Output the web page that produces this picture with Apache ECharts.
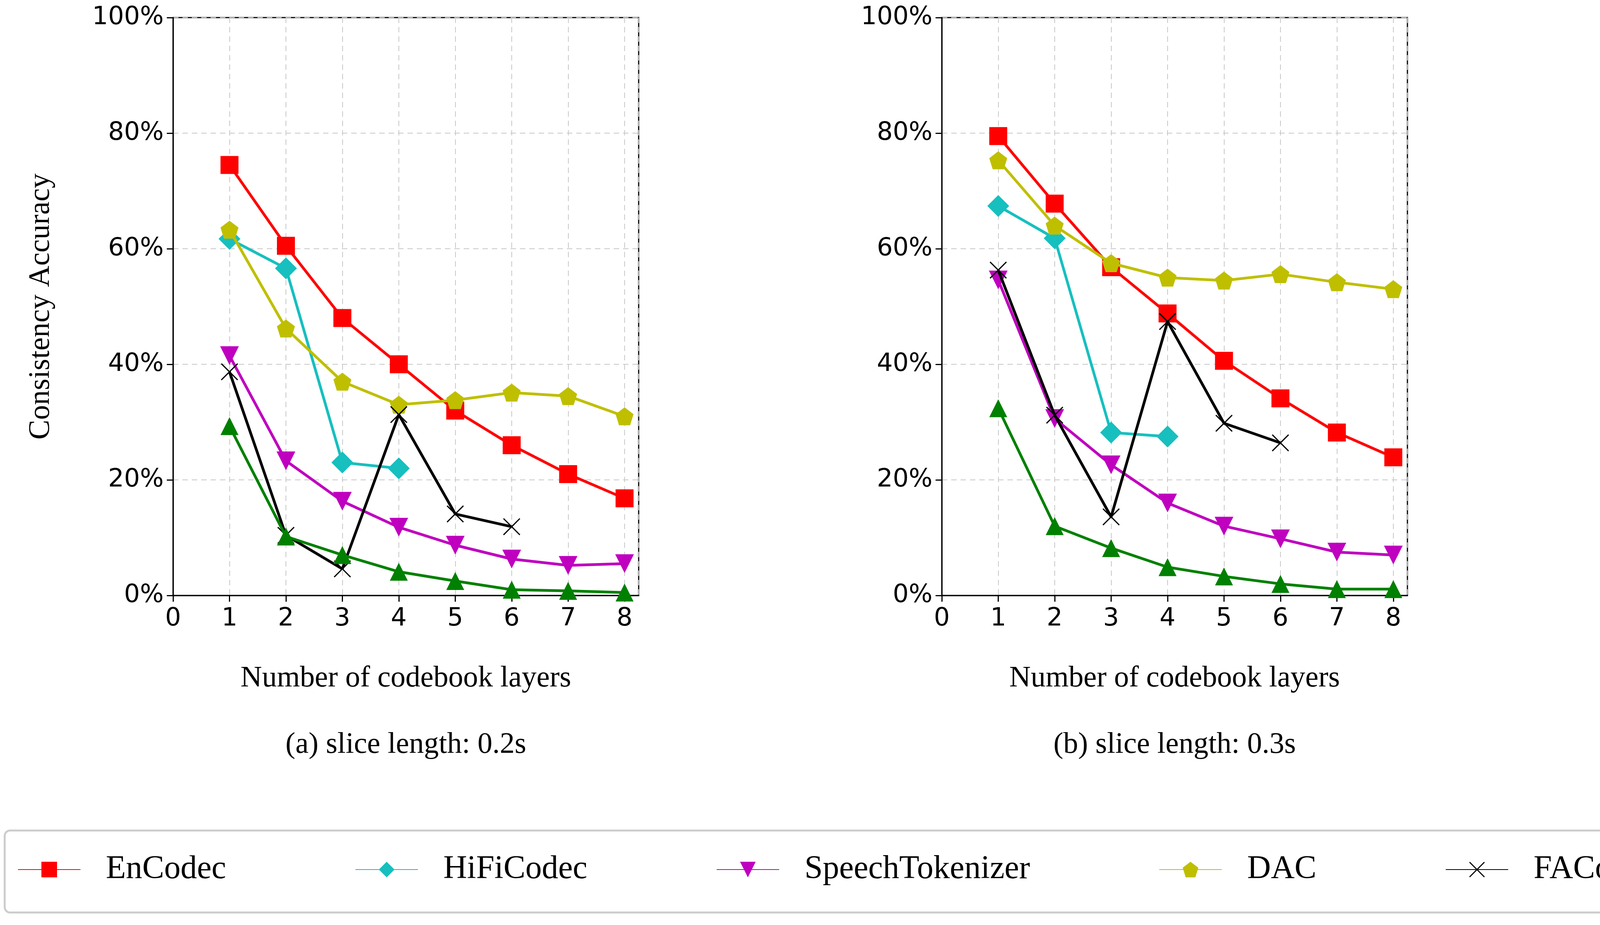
<!DOCTYPE html>
<html><head><meta charset="utf-8">
<script src="https://cdn.jsdelivr.net/npm/echarts@6/dist/echarts.min.js"></script>
<style>html,body{margin:0;padding:0;background:#fff}#c{width:5935px;height:2369px}</style>
</head><body><div id="c"></div>
<script>
const layers = [1,2,3,4,5,6,7,8];
const seriesNames = ['EnCodec','HiFiCodec','SpeechTokenizer','DAC','FACodec','FunCodec'];
const yTicks = [0,20,40,60,80,100];
const captions = ['(a) slice length: 0.2s','(b) slice length: 0.3s','(c) slice length: 0.4s'];
// panel a
const encA = [74.5,60.5,48,40,32,26,21,16.8];
const hifiA = [61.7,56.6,23,22];
const stA = [41.5,23.3,16.3,11.8,8.7,6.3,5.2,5.5];
const dacA = [63.3,46.2,37,33,33.8,35.1,34.5,31];
const faA = [38.7,10.4,4.6,31.3,14.1,11.9];
const funA = [29.3,10.2,7,4.1,2.5,1,0.8,0.5];
// panel b
const encB = [79.5,67.8,56.8,48.8,40.6,34.1,28.2,23.9];
const hifiB = [67.4,61.8,28.2,27.5];
const stB = [54.6,30.6,22.6,16,12,9.8,7.5,7];
const dacB = [75.3,64,57.5,55,54.5,55.6,54.2,53];
const faB = [56.3,31.2,13.6,47.4,29.8,26.4];
const funB = [32.4,12,8.2,4.9,3.3,2,1.1,1.1];
// panel c
const encC = [82.7,71.8,61.8,54.1,47.1,40,34.4,28.8];
const hifiC = [71.5,65.7,31.9,30.1];
const stC = [59.6,36,28.6,19,15,11.5,9.1,7.9];
const dacC = [82.2,73,68.3,66.7,67,66.6,66.3,64.9];
const faC = [67.3,48.5,34.6,60.8,47,44.5];
const funC = [33.7,13.7,9,6,4.3,2.4,1.5,1.5];

const panels = [[encA,hifiA,stA,dacA,faA,funA],[encB,hifiB,stB,dacB,faB,funB],[encC,hifiC,stC,dacC,faC,funC]];
const colors = ['#ff0000','#17bfbf','#bf00bf','#bfbf00','#000000','#008000'];
const pent = 'path://M0,-10 L9.51,-3.09 L5.88,8.09 L-5.88,8.09 L-9.51,-3.09 Z';
const xsym = 'path://M-10,-9 L-9,-10 L0,-1 L9,-10 L10,-9 L1,0 L10,9 L9,10 L0,1 L-9,10 L-10,9 L-1,0 Z';
const tri = 'path://M0,-10 L10,8 L-10,8 Z';
const trid = 'path://M0,10 L10,-8 L-10,-8 Z';
const symbols = ['rect','diamond',trid,pent,xsym,tri];
const symSizes = [46,56,48,46,44,46];

const lefts = [443,2411,4391], PW = 1192, PT = 45, PH = 1480;
const grid = [], xAxis = [], yAxis = [], series = [], graphic = [];
panels.forEach((p,i)=>{
  grid.push({left:lefts[i],top:PT,width:PW,height:PH,show:true,borderColor:'#000',borderWidth:3,containLabel:false});
  xAxis.push({gridIndex:i,type:'value',min:0,max:8.25,interval:1,
    name:'Number of codebook layers',nameLocation:'middle',nameGap:175,
    nameTextStyle:{fontFamily:'Liberation Serif',fontSize:76,color:'#000'},
    axisLine:{lineStyle:{color:'#000',width:3}},axisTick:{length:16,lineStyle:{color:'#000',width:3}},
    axisLabel:{fontFamily:'DejaVu Sans',fontSize:64,color:'#000',margin:28,showMaxLabel:false,formatter:v=>Number.isInteger(v)?String(v):''},
    splitLine:{show:true,lineStyle:{color:'#c8c8c8',type:[14,10],width:2}}});
  yAxis.push({gridIndex:i,type:'value',min:yTicks[0],max:yTicks[yTicks.length-1],interval:20,
    name:i===0?'Consistency Accuracy':'',nameLocation:'middle',nameGap:300,nameRotate:90,
    nameTextStyle:{fontFamily:'Liberation Serif',fontSize:76,color:'#000'},
    axisLine:{lineStyle:{color:'#000',width:3}},axisTick:{show:true,length:16,lineStyle:{color:'#000',width:3}},
    axisLabel:{fontFamily:'DejaVu Sans',fontSize:64,color:'#000',margin:24,formatter:v=>v+'%'},
    splitLine:{show:true,lineStyle:{color:'#c8c8c8',type:[14,10],width:2}}});
  p.forEach((arr,k)=>{
    series.push({name:seriesNames[k],type:'line',xAxisIndex:i,yAxisIndex:i,
      data:arr.map((v,j)=>[layers[j],v]),symbol:symbols[k],symbolSize:symSizes[k],
      lineStyle:{color:colors[k],width:7},itemStyle:{color:colors[k]},
      z:10+k,animation:false});
  });
  graphic.push({type:'text',x:lefts[i]+PW/2,y:1870,style:{text:captions[i],font:'76px "Liberation Serif"',fill:'#000',textAlign:'center'}});
});
graphic.push({type:'rect',shape:{x:12,y:2127,width:5905,height:210,r:14},style:{fill:'none',stroke:'#cccccc',lineWidth:5}});
const chart = echarts.init(document.getElementById('c'));
chart.setOption({animation:false,grid,xAxis,yAxis,series,graphic,
  legend:{data:seriesNames,left:40,top:2180,itemWidth:160,itemHeight:50,itemGap:330,
    textStyle:{fontFamily:'Liberation Serif',fontSize:84,color:'#000',padding:[0,0,0,60]}}});
</script></body></html>
